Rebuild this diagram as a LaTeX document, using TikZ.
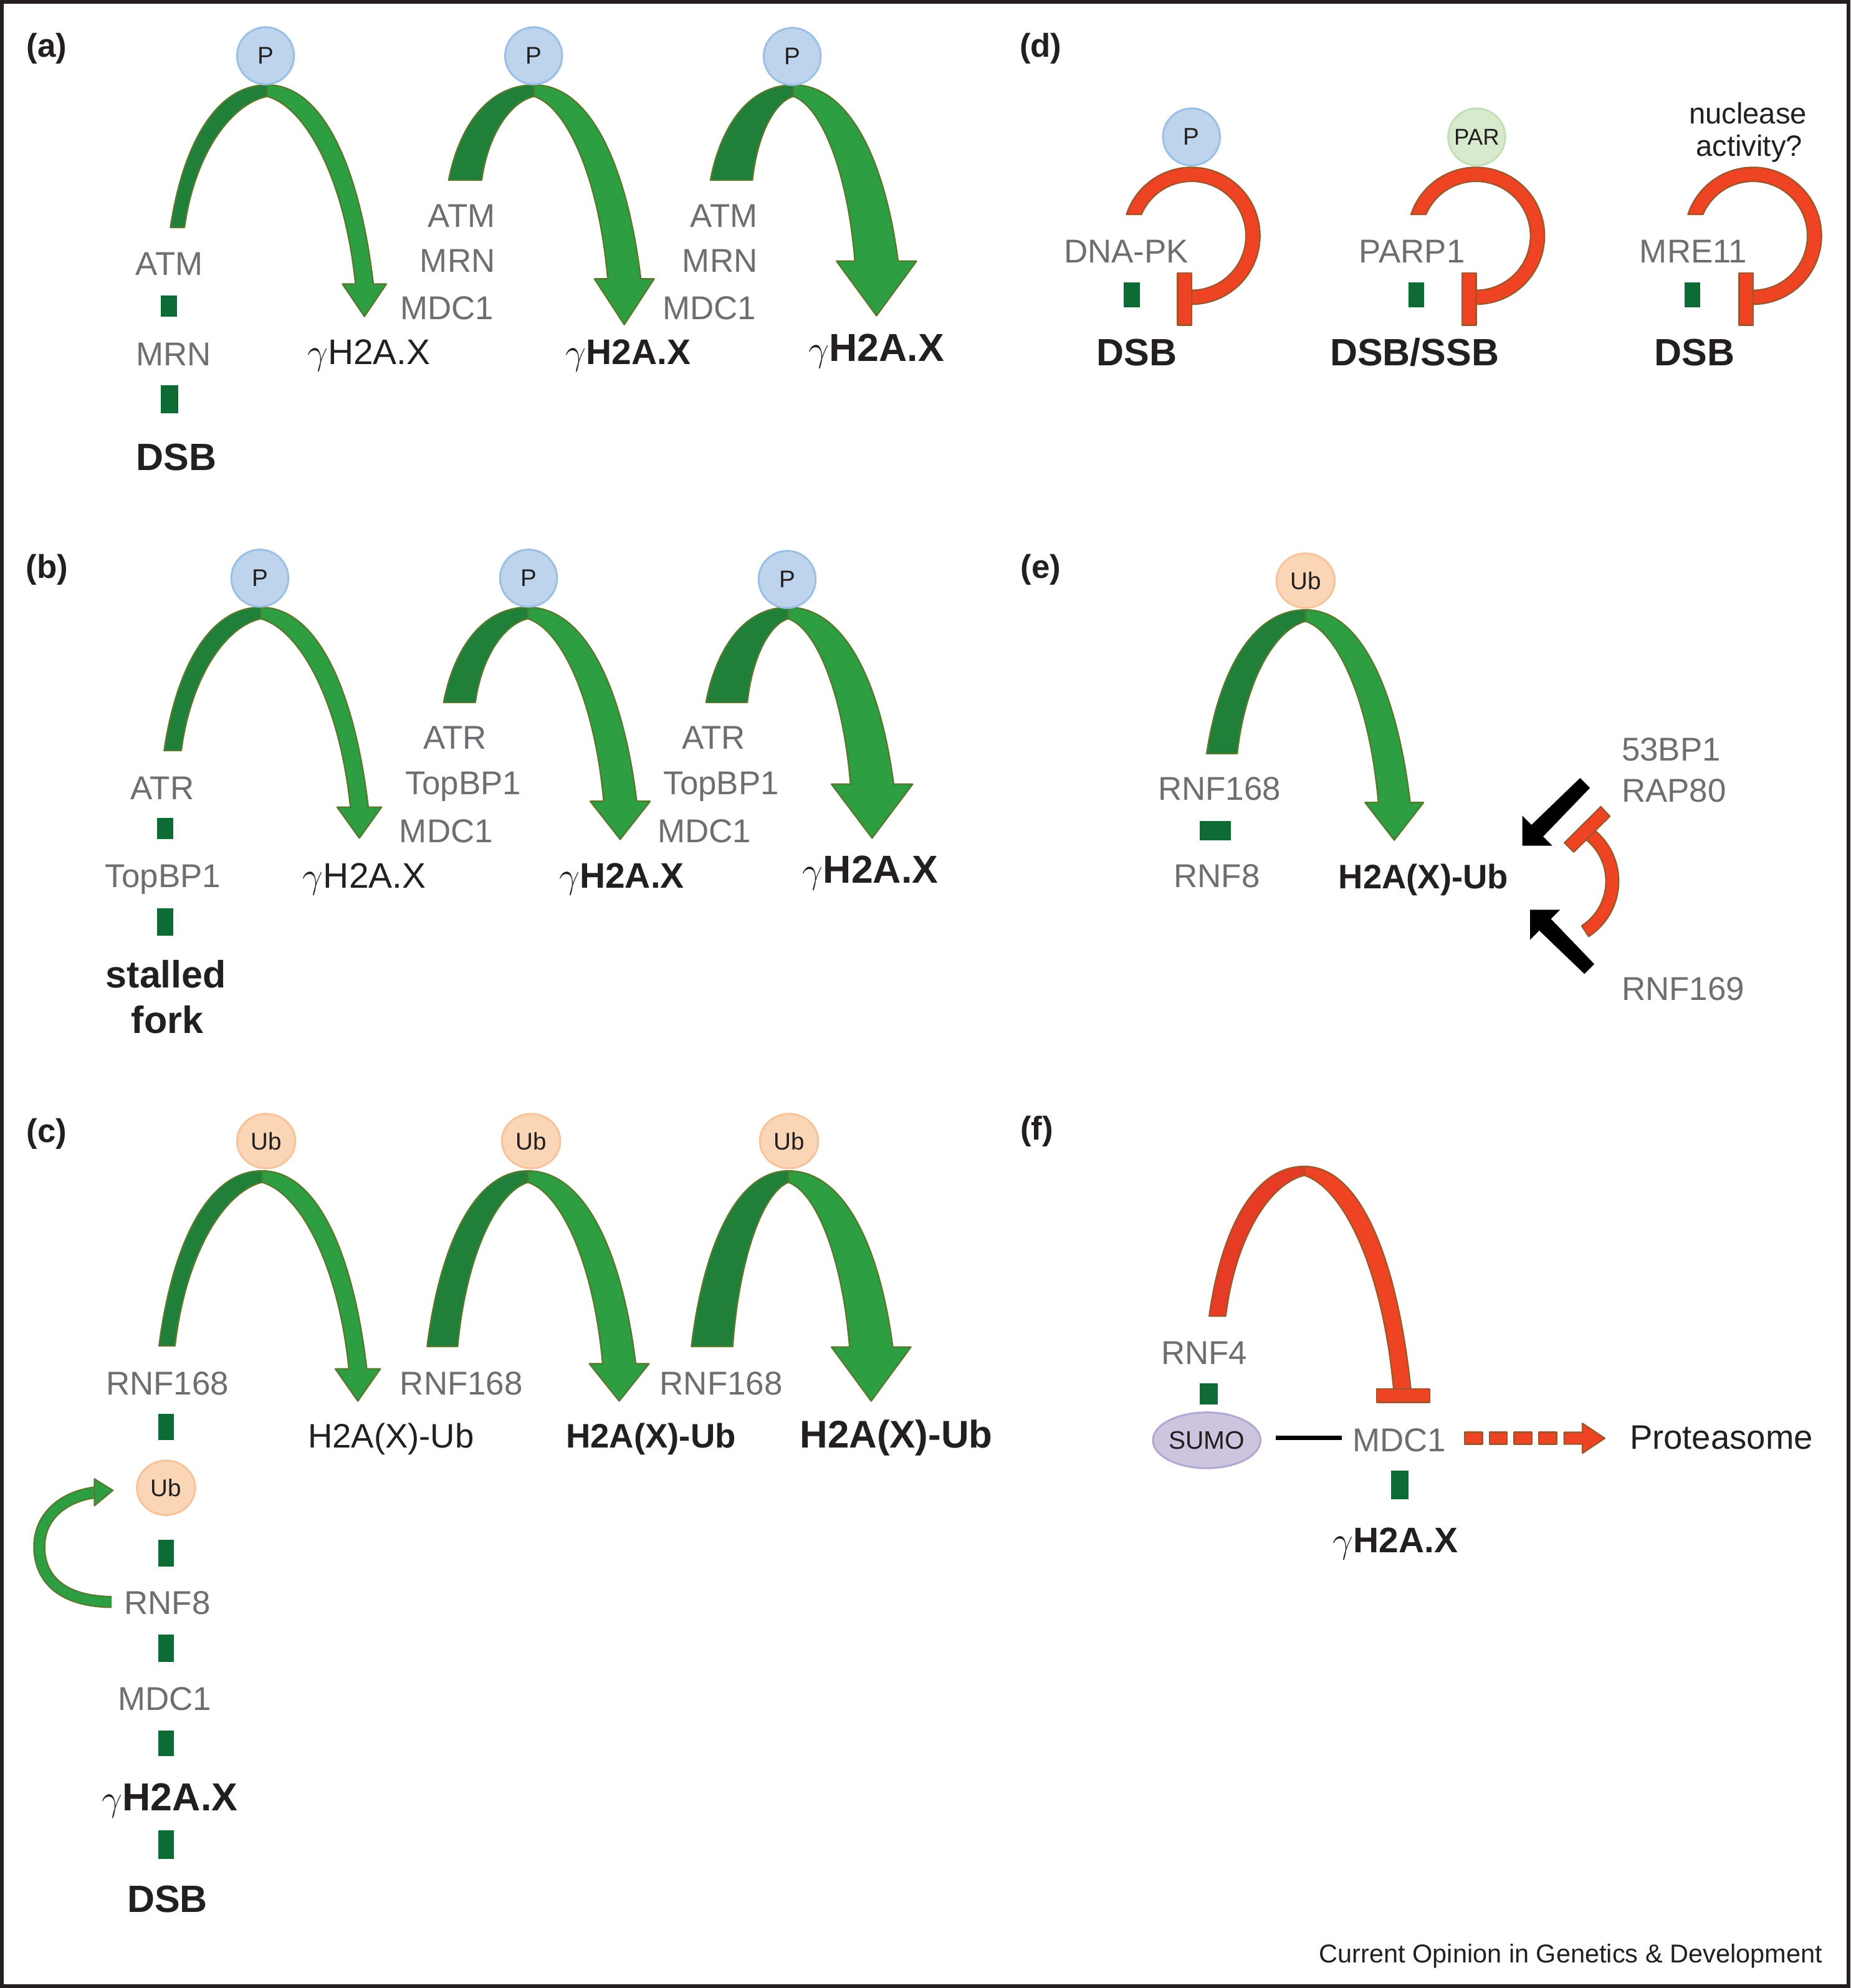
\documentclass[tikz,border=0pt]{standalone}
\usepackage{fontspec}
\setmainfont{Liberation Sans}
\usetikzlibrary{shapes.geometric}

\definecolor{lg}{HTML}{6D6E71}
\definecolor{tx}{HTML}{231F20}
\definecolor{gdark}{HTML}{20803A}
\definecolor{glight}{HTML}{2E9E42}
\definecolor{gline}{HTML}{557A2E}
\definecolor{gbar}{HTML}{0F6B36}
\definecolor{rfill}{HTML}{EE4424}
\definecolor{rfilld}{HTML}{E63B24}
\definecolor{rline}{HTML}{A0562A}
\definecolor{pfill}{HTML}{BDD4EC}
\definecolor{pline}{HTML}{9BC0E5}
\definecolor{ubfill}{HTML}{FBD6B6}
\definecolor{ubline}{HTML}{F6C39B}
\definecolor{parfill}{HTML}{D7EBCC}
\definecolor{parline}{HTML}{C3DFB4}
\definecolor{sumofill}{HTML}{CDC5E0}
\definecolor{sumoline}{HTML}{B2A8D1}

\newcommand{\gam}{\ensuremath{\gamma}}

% left half of an arch: style, xLo, xLi, yL, xA, yA, tA
\newcommand{\archleft}[7]{%
  \pgfmathsetmacro\aWo{#5-#2}\pgfmathsetmacro\aHo{#4-#6}%
  \pgfmathsetmacro\aWi{#5-#3}\pgfmathsetmacro\aHi{#4-#6-#7}%
  \path[#1] (#2,#4) .. controls ({#2+0.12*\aWo},{#4-0.55*\aHo}) and ({#2+0.45*\aWo},#6) .. (#5,#6)
    -- (#5,{#6+#7}) .. controls ({#3+0.55*\aWi},{#6+#7+0.06*\aHi}) and ({#3+0.12*\aWi},{#4-0.55*\aHi}) .. (#3,#4) -- cycle;
}
% right half with arrowhead: style, xA, yA, tA, xc, wR, yb, hw, ytip
\newcommand{\archright}[9]{%
  \pgfmathsetmacro\aRo{#5+#6/2}\pgfmathsetmacro\aRi{#5-#6/2}%
  \pgfmathsetmacro\aWo{\aRo-#2}\pgfmathsetmacro\aHo{#7-#3}%
  \pgfmathsetmacro\aWi{\aRi-#2}\pgfmathsetmacro\aHi{#7-#3-#4}%
  \path[#1] (#2,#3) .. controls ({#2+0.55*\aWo},#3) and ({\aRo-0.12*\aWo},{#7-0.55*\aHo}) .. (\aRo,#7)
    -- ({#5+#8},#7) -- (#5,#9) -- ({#5-#8},#7) -- (\aRi,#7)
    .. controls ({\aRi-0.12*\aWi},{#7-0.55*\aHi}) and ({#2+0.45*\aWi},{#3+#4+0.06*\aHi}) .. (#2,{#3+#4}) -- cycle;
}
% right half without head: style, xA, yA, tA, xRo, xRi, yb
\newcommand{\archflat}[7]{%
  \pgfmathsetmacro\aWo{#5-#2}\pgfmathsetmacro\aHo{#7-#3}%
  \pgfmathsetmacro\aWi{#6-#2}\pgfmathsetmacro\aHi{#7-#3-#4}%
  \path[#1] (#2,#3) .. controls ({#2+0.55*\aWo},#3) and ({#5-0.12*\aWo},{#7-0.55*\aHo}) .. (#5,#7)
    -- (#6,#7) .. controls ({#6-0.12*\aWi},{#7-0.55*\aHi}) and ({#2+0.45*\aWi},{#3+#4+0.06*\aHi}) .. (#2,{#3+#4}) -- cycle;
}
% red loop of panel (d): centre x
\newcommand{\redloop}[1]{%
  \path[rlight] plot[domain=198.2:450, samples=60] ({#1+54*cos(\x)},{186+54*sin(\x)})
    -- plot[domain=450:203.1, samples=60] ({#1+43*cos(\x)},{186+43*sin(\x)}) -- cycle;
}

\tikzset{
  gl/.style={text=lg, font=\fontsize{13}{15}\selectfont, inner sep=0pt, anchor=base},
  bk/.style={text=tx, font=\fontsize{13.4}{16}\selectfont, inner sep=0pt, anchor=base},
  bkb/.style={text=tx, font=\bfseries\fontsize{13.4}{16}\selectfont, inner sep=0pt, anchor=base},
  bkbig/.style={text=tx, font=\bfseries\fontsize{15.2}{18}\selectfont, inner sep=0pt, anchor=base},
  gx/.style={text=tx, font=\fontsize{14}{16}\selectfont, inner sep=0pt, anchor=base},
  gxb/.style={text=tx, font=\bfseries\fontsize{14}{16}\selectfont, inner sep=0pt, anchor=base},
  gxbb/.style={text=tx, font=\bfseries\fontsize{15.4}{18}\selectfont, inner sep=0pt, anchor=base},
  bbig/.style={text=tx, font=\bfseries\fontsize{15}{18}\selectfont, inner sep=0pt, anchor=base},
  plab/.style={text=tx, font=\bfseries\fontsize{13}{15}\selectfont, inner sep=0pt, anchor=base},
  pcirc/.style={circle, fill=pfill, draw=pline, line width=0.75pt, minimum size=22.5pt, inner sep=0pt, text=tx, font=\fontsize{9.5}{11}\selectfont},
  ubcirc/.style={ellipse, fill=ubfill, draw=ubline, line width=0.75pt, minimum width=23pt, minimum height=21.5pt, inner sep=0pt, text=tx, font=\fontsize{9.5}{11}\selectfont},
  parcirc/.style={circle, fill=parfill, draw=parline, line width=0.75pt, minimum size=22.5pt, inner sep=0pt, text=tx, font=\fontsize{9}{11}\selectfont},
  sumo/.style={ellipse, fill=sumofill, draw=sumoline, line width=0.75pt, minimum width=40pt, minimum height=22pt, inner sep=0pt, text=tx, font=\fontsize{10}{12}\selectfont},
  ldark/.style={fill=gdark, draw=gline, line width=0.6pt, line join=round},
  llight/.style={fill=glight, draw=gline, line width=0.6pt, line join=round},
  rdark/.style={fill=rfilld, draw=rline, line width=0.6pt, line join=round},
  rlight/.style={fill=rfill, draw=rline, line width=0.6pt, line join=round},
  gbarst/.style={fill=gbar},
  blk/.style={fill=black},
  linkline/.style={draw=black, line width=1.75pt},
}

\begin{document}
\begin{tikzpicture}[x=0.5pt,y=-0.5pt]
\useasboundingbox (0,0) rectangle (1460,1568);
\draw[line width=1.5pt, tx] (1.5,1.5) rectangle (1458.5,1566.5);

% ================= (a)
\node[plab] (la) at (37,45) {(a)};
\archleft{ldark}{134.5}{145.5}{179.4}{210.8}{67}{9}
\archright{llight}{210.8}{67}{9}{287.5}{14}{224}{17.3}{249.6}
\archleft{ldark}{354}{380}{142}{421.5}{67}{9}
\archright{llight}{421.5}{67}{9}{492.5}{26}{220}{23.5}{256}
\archleft{ldark}{560.5}{593.6}{142}{626}{67}{9}
\archright{llight}{626}{67}{9}{691.5}{34}{206}{31.5}{249}
\node[pcirc] (pa1) at (209.5,44) {P};
\node[pcirc] (pa2) at (421,44) {P};
\node[pcirc] (pa3) at (625,44.5) {P};
\node[gl] (a1atm) at (133.5,217) {ATM};
\path[gbarst] (127,233.3) rectangle (139.5,249.6);
\node[gl] (a1mrn) at (137,288.5) {MRN};
\path[gbarst] (127,304) rectangle (140.5,326);
\node[bbig] (a1dsb) at (139,371) {DSB};
\node[gx] (a1g) at (291,287.5) {\gam H2A.X};
\node[gl, anchor=base east] (a2atm) at (391,179) {ATM};
\node[gl, anchor=base east] (a2mrn) at (391,214.5) {MRN};
\node[gl, anchor=base east] (a2mdc) at (390,252) {MDC1};
\node[gxb] (a2g) at (495.5,287.5) {\gam H2A.X};
\node[gl, anchor=base east] (a3atm) at (598,179) {ATM};
\node[gl, anchor=base east] (a3mrn) at (598,214.5) {MRN};
\node[gl, anchor=base east] (a3mdc) at (597,252) {MDC1};
\node[gxbb] (a3g) at (691.5,285) {\gam H2A.X};

% ================= (b)
\node[plab] (lb) at (37,456) {(b)};
\archleft{ldark}{129.5}{143}{592}{205.7}{479}{9}
\archright{llight}{205.7}{479}{9}{283.5}{14}{636.6}{17.5}{661}
\archleft{ldark}{350}{375}{554}{416.5}{479}{9}
\archright{llight}{416.5}{479}{9}{489.3}{26}{632}{23.6}{662}
\archleft{ldark}{557}{589.6}{554}{622}{479}{9}
\archright{llight}{622}{479}{9}{688}{34}{618.5}{32}{661}
\node[pcirc] (pb1) at (205,456) {P};
\node[pcirc] (pb2) at (417,456) {P};
\node[pcirc] (pb3) at (621,457) {P};
\node[gl] (b1atr) at (128,630.5) {ATR};
\path[gbarst] (124,645) rectangle (136.5,662);
\node[gl] (b1top) at (128.5,700) {TopBP1};
\path[gbarst] (124,716.6) rectangle (136.5,738);
\node[bbig] (b1st) at (131,779) {stalled};
\node[bbig] (b1fk) at (132,815) {fork};
\node[gx] (b1g) at (287.5,700.6) {\gam H2A.X};
\node[gl] (b2atr) at (359,591) {ATR};
\node[gl] (b2top) at (365.6,626.5) {TopBP1};
\node[gl] (b2mdc) at (352,664.6) {MDC1};
\node[gxb] (b2g) at (490.5,700.6) {\gam H2A.X};
\node[gl] (b3atr) at (563,591) {ATR};
\node[gl] (b3top) at (569,626.5) {TopBP1};
\node[gl] (b3mdc) at (555.7,664.6) {MDC1};
\node[gxbb] (b3g) at (686.7,696.6) {\gam H2A.X};

% ================= (c)
\node[plab] (lc) at (37,901) {(c)};
\archleft{ldark}{125.5}{138}{1061.5}{206.7}{923.5}{9}
\archright{llight}{206.7}{923.5}{9}{282.3}{14}{1079.7}{17.7}{1105}
\archleft{ldark}{337}{361}{1062}{416.5}{923.5}{9}
\archright{llight}{416.5}{923.5}{9}{488.5}{26}{1075.6}{23.5}{1105}
\archleft{ldark}{545.5}{578}{1062}{622}{923.5}{9}
\archright{llight}{622}{923.5}{9}{687.3}{34}{1062.5}{31.3}{1105}
\node[ubcirc] (uc1) at (210,900) {Ub};
\node[ubcirc] (uc2) at (419,900) {Ub};
\node[ubcirc] (uc3) at (622.5,900) {Ub};
\node[gl] (c1rnf) at (132,1100) {RNF168};
\node[gl] (c2rnf) at (364,1100) {RNF168};
\node[gl] (c3rnf) at (569,1100) {RNF168};
\node[bk] (c1h) at (308.5,1142) {H2A(X)-Ub};
\node[bkb] (c2h) at (513.6,1142) {H2A(X)-Ub};
\node[bkbig] (c3h) at (707,1142) {H2A(X)-Ub};
% chain
\path[gbarst] (125,1115) rectangle (137,1136);
\node[ubcirc] (ucc) at (131,1173.5) {Ub};
\path[gbarst] (125,1214.5) rectangle (137,1235.6);
\node[gl] (crnf8) at (132,1273) {RNF8};
\path[gbarst] (125,1289) rectangle (137,1311);
\node[gl] (cmdc) at (130,1349) {MDC1};
\path[gbarst] (125,1365) rectangle (137,1385);
\node[gxbb] (cg) at (134,1428) {\gam H2A.X};
\path[gbarst] (125,1443.6) rectangle (137,1466);
\node[bbig] (cdsb) at (132,1508) {DSB};
% self arrow RNF8 -> Ub
\coordinate (selft) at (88,1263.5);
\coordinate (selfh) at (76,1177);
\draw[gline, line width=4.8pt] (selft) .. controls (45,1263) and (31,1242) .. (31,1220) .. controls (31,1196) and (50,1180) .. (selfh);
\draw[glight, line width=3.6pt] (selft) .. controls (45,1263) and (31,1242) .. (31,1220) .. controls (31,1196) and (50,1180) .. (selfh);
\path[llight] (74.5,1166.5) -- (89,1175.5) -- (74.5,1187.5) -- cycle;

% ================= (d)
\node[plab] (ld) at (821,45) {(d)};
\redloop{940}
\redloop{1164.5}
\redloop{1383}
\node[pcirc] (pd) at (940,108) {P};
\node[parcirc] (pard) at (1165,108) {PAR};
\node[text=tx, font=\fontsize{11.6}{14}\selectfont, inner sep=0pt, anchor=base] (nuc1) at (1379,97.7) {nuclease};
\node[text=tx, font=\fontsize{11.6}{14}\selectfont, inner sep=0pt, anchor=base] (nuc2) at (1380,123) {activity?};
\node[gl] (dnapk) at (888.5,207) {DNA-PK};
\node[gl] (parp) at (1114,207) {PARP1};
\node[gl] (mre) at (1336,207) {MRE11};
\path[gbarst] (886.4,222.6) rectangle (899.4,242.5);
\path[gbarst] (1111,222.6) rectangle (1123.5,242.5);
\path[gbarst] (1329,222.6) rectangle (1341.5,242.5);
\path[rlight] (929,215.4) rectangle (940,256.5);
\path[rlight] (1153.5,215.4) rectangle (1164.5,256.5);
\path[rlight] (1372,215.4) rectangle (1383,256.5);
\node[bbig] (d1) at (897,288.6) {DSB};
\node[bbig] (d2) at (1116,288.6) {DSB/SSB};
\node[bbig] (d3) at (1337,288.6) {DSB};

% ================= (e)
\node[plab] (le) at (821,456) {(e)};
\archleft{ldark}{952}{976}{594.4}{1030}{481}{9}
\archright{llight}{1030}{481}{9}{1100}{25}{633}{23}{662.6}
\node[ubcirc] (ue) at (1030,458) {Ub};
\node[gl] (ernf168) at (962,631) {RNF168};
\path[gbarst] (946.6,647.6) rectangle (971,662.6);
\node[gl] (ernf8) at (960,700) {RNF8};
\node[bkb] (eh) at (1123,701) {H2A(X)-Ub};
\node[gl, anchor=base west] (e53) at (1279,600) {53BP1};
\node[gl, anchor=base west] (erap) at (1279,632.5) {RAP80};
\node[gl, anchor=base west] (e169) at (1279,789) {RNF169};
\path[blk] (1201,667) -- (1201,643.4) -- (1208.2,650.6) -- (1246.6,613.6) -- (1254.4,621.4) -- (1217.4,659.8) -- (1224.6,667) -- cycle;
\path[blk] (1207.2,717.6) -- (1207.2,741.2) -- (1214.4,734) -- (1250,768.2) -- (1257.8,760.4) -- (1223.6,724.8) -- (1230.8,717.6) -- cycle;
\path[rlight] plot[domain=-52:57, samples=40] ({1225+52*cos(\x)},{695+52*sin(\x)})
  -- plot[domain=57:-52, samples=40] ({1225+42*cos(\x)},{695+42*sin(\x)}) -- cycle;
\path[rlight] (1234.3,664.7) -- (1241.6,672) -- (1270,643.8) -- (1262.9,636.3) -- cycle;

% ================= (f)
\node[plab] (lf) at (818,899) {(f)};
\archleft{rdark}{954}{967}{1038}{1029}{920}{7}
\archflat{rlight}{1029}{920}{7}{1113}{1099.5}{1095.6}
\path[rlight] (1086,1095.6) rectangle (1128,1106);
\node[gl] (frnf4) at (950,1076) {RNF4};
\path[gbarst] (946.5,1091) rectangle (960.6,1107.6);
\node[sumo] (su) at (952,1136) {SUMO};
\node[gl] (fmdc) at (1104,1145) {MDC1};
\coordinate (lk1) at (1006.5,1134);
\coordinate (lk2) at (1058.5,1134);
\draw[linkline] (lk1) -- (lk2);
\path[gbarst] (1097.5,1160) rectangle (1111,1182.4);
\node[gxb] (fg) at (1101,1224.5) {\gam H2A.X};
\path[rlight] (1155.5,1129.7) rectangle (1169.5,1139);
\path[rlight] (1175,1129.7) rectangle (1189,1139);
\path[rlight] (1194.5,1129.7) rectangle (1208.5,1139);
\path[rlight] (1214,1129.7) rectangle (1228,1139);
\path[rlight] (1234,1129.7) -- (1248.5,1129.7) -- (1248.5,1122.7) -- (1266,1134.4) -- (1248.5,1146.1) -- (1248.5,1139) -- (1234,1139) -- cycle;
\node[bk] (prot) at (1358,1143) {Proteasome};

% footer
\node[text=tx, font=\fontsize{10.2}{12}\selectfont, inner sep=0pt, anchor=base east] (foot) at (1438,1548) {Current Opinion in Genetics \& Development};
\end{tikzpicture}
\end{document}
